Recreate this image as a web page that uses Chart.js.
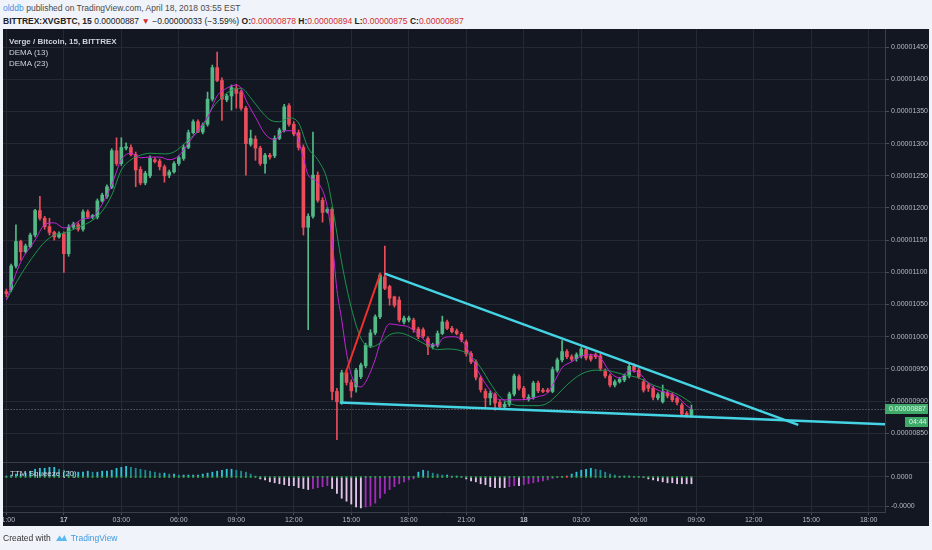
<!DOCTYPE html>
<html>
<head>
<meta charset="utf-8">
<script src="https://cdn.jsdelivr.net/npm/chart.js@4.4.1/dist/chart.umd.min.js"></script>
<style>
  body { margin: 0; width: 932px; height: 550px; background: #f0f3fa; font-family: "Liberation Sans", Arial, sans-serif; position: relative; overflow: hidden; }
  .hdr1 { position: absolute; left: 3px; top: 3px; font-size: 8.5px; color: #4a4a4a; white-space: nowrap; }
  .hdr1 .user { color: #4a90e2; }
  .hdr2 { position: absolute; left: 3px; top: 16px; font-size: 8.5px; color: #222; white-space: nowrap; }
  .red { color: #d32f2f; }
  #wrap { position: absolute; left: 3px; top: 29px; width: 926px; height: 497px; background: #131722; overflow: hidden; }
  .lg { position: absolute; color: #cfd2da; font-size: 8px; white-space: nowrap; }
  .foot { position: absolute; left: 3px; top: 533px; font-size: 8.5px; color: #333; white-space: nowrap; }
  .foot .tv { color: #3d9be0; }
  .foot svg { vertical-align: -2px; margin: 0 3px 0 4px; }
</style>
</head>
<body>
<div class="hdr1"><span class="user">olddb</span> published on TradingView.com, April 18, 2018 03:55 EST</div>
<div class="hdr2"><b>BITTREX:XVGBTC, 15</b> 0.00000887 <span class="red">▼</span> −0.00000033 (−3.59%) <b>O:</b><span class="red">0.00000878</span> <b>H:</b><span class="red">0.00000894</span> <b>L:</b><span class="red">0.00000875</span> <b>C:</b><span class="red">0.00000887</span></div>
<div id="wrap">
  <canvas id="grafica" width="926" height="497"></canvas>
  <div class="lg" style="left:6px;top:8px;font-weight:bold;">Verge / Bitcoin, 15, BITTREX</div>
  <div class="lg" style="left:6px;top:19px;">DEMA (13)</div>
  <div class="lg" style="left:6px;top:30px;">DEMA (23)</div>
  <div class="lg" style="left:7px;top:440px;">TTM Squeeze (20)</div>
</div>
<div class="foot">Created with<svg width="13" height="10" viewBox="0 0 13 10"><path d="M1 8 L4.5 2.5 L7 6 L9.5 2 L12 8 Z" fill="#5bb8f0"/></svg><span class="tv">TradingView</span></div>

<script>
// precios en satoshis (1e-8 BTC), una vela cada 15 min desde 16 abr 21:00
const candleOpen = [1070,1073,1110,1148,1132,1140,1158,1196,1184,1171,1162,1155,1160,1129,1170,1174,1167,1194,1186,1186,
  1211,1218,1232,1289,1269,1293,1294,1283,1260,1239,1250,1275,1273,1264,1251,1256,1269,1277,1294,1317,
  1334,1318,1330,1369,1418,1398,1368,1374,1386,1380,1355,1299,1307,1293,1269,1282,1281,1308,1321,1359,
  1330,1317,1294,1170,1187,1251,1212,1194,1198,915,899,944,929,922,938,955,986,1006,1031,1093,
  1078,1062,1057,1023,1026,1026,1012,1011,997,985,987,1005,1023,1013,1009,1004,992,974,961,936,
  915,905,910,898,891,895,911,938,920,903,906,928,917,917,915,948,964,977,969,966,
  970,980,970,972,970,946,939,925,930,933,939,954,948,930,925,920,905,899,913,910,
  904,894,881,878];
const candleHigh = [1074,1113,1174,1150,1144,1161,1198,1218,1187,1184,1164,1163,1163,1174,1178,1177,1197,1197,1190,1214,
  1223,1236,1292,1309,1309,1301,1298,1287,1264,1257,1281,1278,1276,1267,1259,1272,1281,1298,1321,1337,
  1337,1332,1380,1422,1442,1402,1377,1391,1392,1383,1358,1321,1312,1296,1285,1285,1312,1324,1361,1362,
  1334,1321,1298,1191,1318,1256,1216,1201,1201,920,948,948,933,951,959,990,1011,1034,1099,1141,
  1080,1063,1062,1032,1032,1029,1015,1014,1000,990,1009,1032,1026,1016,1012,1007,995,977,964,939,
  919,916,913,902,899,914,942,941,923,910,931,931,920,920,953,967,994,980,972,975,
  984,983,973,975,973,950,942,933,937,942,958,958,951,934,928,923,913,925,917,913,
  907,897,884,894];
const candleLow = [1062,1070,1107,1119,1130,1138,1155,1181,1167,1158,1150,1153,1100,1125,1167,1164,1164,1184,1183,1183,
  1209,1215,1230,1266,1266,1290,1281,1233,1236,1236,1247,1270,1259,1240,1247,1254,1266,1274,1292,1315,
  1317,1315,1327,1366,1396,1336,1365,1352,1355,1352,1251,1296,1274,1266,1254,1276,1278,1306,1318,1327,
  1312,1290,1158,1011,1184,1209,1178,1192,902,840,895,925,906,914,935,952,983,1003,1028,1073,
  1049,1046,1023,1020,1023,1007,997,998,972,981,984,1003,1011,1006,1003,992,970,958,933,914,
  891,894,886,888,888,892,908,917,902,900,903,913,913,913,913,945,961,966,962,962,
  967,964,962,966,947,936,922,922,928,930,936,945,935,914,915,902,902,897,905,899,
  894,877,875,875];
const candleClose = [1067,1110,1148,1132,1141,1158,1196,1184,1171,1162,1155,1160,1129,1170,1175,1167,1194,1186,1188,1211,
  1220,1233,1289,1269,1294,1295,1283,1259,1239,1254,1277,1272,1264,1250,1256,1269,1278,1294,1317,1334,
  1318,1329,1369,1418,1398,1369,1374,1387,1378,1355,1300,1308,1293,1269,1282,1279,1308,1321,1357,1330,
  1315,1294,1170,1187,1251,1212,1193,1198,915,899,944,929,916,948,956,987,1006,1031,1096,1075,
  1060,1049,1026,1029,1029,1011,1000,1001,985,987,1005,1023,1013,1008,1005,995,974,961,937,918,
  905,912,897,891,895,911,939,920,906,906,928,916,915,915,949,964,977,969,965,972,
  981,967,965,969,951,939,925,930,934,939,954,948,938,917,920,906,910,915,908,902,
  898,880,878,887];

// DEMA (índice de vela, precio)
const demaFastIdx = [0,3,6,8,10,12,14,16,18,20,22,24,26,28,30,32,34,36,38,40,42,44,46,48,49,50,52,54,56,58,
  60,62,63,65,67,68,69,70,71,72,74,75,77,78,80,82,84,86,88,90,91,93,95,97,99,101,103,106,109,111,
  113,115,116,118,120,122,124,126,128,130,132,134,136,138,140,142,143];
const demaFast = [1057,1116,1150,1174,1177,1169,1174,1183,1186,1206,1236,1275,1285,1278,1279,1279,1275,1281,1301,1321,
  1341,1374,1386,1391,1386,1368,1341,1315,1306,1320,1320,1278,1251,1240,1202,1150,1073,1026,975,941,
  922,930,965,990,1020,1018,1015,1004,990,987,997,1000,995,970,939,917,902,902,903,907,
  913,939,952,961,970,972,967,945,936,947,944,928,917,913,907,893,888];
const demaSlowIdx = [0,3,6,8,10,12,15,18,20,22,24,26,28,30,33,35,38,41,43,45,47,49,51,53,55,57,59,61,63,65,
  67,68,69,70,72,74,76,78,80,82,85,88,90,92,95,97,99,101,103,105,107,109,111,113,115,117,120,123,125,127,
  129,132,135,138,141,143];
const demaSlow = [1057,1096,1129,1147,1158,1161,1170,1181,1195,1220,1259,1275,1282,1285,1284,1287,1306,1327,1355,1372,
  1383,1386,1371,1352,1337,1334,1340,1332,1293,1275,1243,1205,1160,1115,1045,998,984,990,1003,1006,
  998,986,980,981,978,970,952,928,907,897,893,893,893,897,910,925,942,948,948,945,
  941,936,925,917,907,897];

// TTM Squeeze (momento, en satoshis)
const squeezeMom = [1,2,3,3,4,6,8,9,9,10,10,8,7,6,5,5,5,6,5,5,6,6,7,9,10,11,10,9,8,7,6,5,4,4,3,3,2,2,2,2,2,
  3,4,5,6,7,8,8,7,6,5,3,1,
  -2,-3,-5,-6,-7,-8,-9,-9,-11,-12,-13,-12,-11,-10,-9,-12,-17,-22,-25,-28,-31,-32,-31,-30,-27,-22,-17,-13,-10,-7,-5,-3,-2,
  5,7,6,4,3,2,2,1,1,0.5,
  -2,-4,-5,-7,-8,
  -10,-11,-11,-11,-10,-9,-9,-8,-7,-6,-5,-4,-3,
  -1.5,-0.5,0.5,1,
  3,5,7,8,9,8,7,5,3,2,
  1,1,1,0.5,0.5,-0.5,
  -2,-3,-4,-5,-6,-6,-7,-7,-7,-7];
const squeezeRedDots = [117];

// líneas dibujadas a mano en el gráfico
const riseLineX = [70.7, 78.1];
const riseLineY = [941, 1099];
const upperTrendX = [79.0, 165.3];
const upperTrendY = [1098, 863];
const lowerTrendX = [69.6, 183.4];
const lowerTrendY = [898, 864];
const lastPrice = 887;
const countdown = '04:44';

// ejes
const priceTicks = [850,900,950,1000,1050,1100,1150,1200,1250,1300,1350,1400,1450];
const squeezeTicks = [0, -30];
const timeTicks = [0,12,24,36,48,60,72,84,96,108,120,132,144,156,168,180];
const timeLabels = ['21:00','17','03:00','06:00','09:00','12:00','15:00','18:00','21:00','18','03:00','06:00','09:00','12:00','15:00','18:00'];

const upColor = '#53b987';
const downColor = '#eb4d5c';
const gridColor = '#252934';
const tickColor = '#b4b8c2';

const idx = candleOpen.map((_, i) => i);
const candleColor = idx.map(i => candleClose[i] >= candleOpen[i] ? upColor : downColor);
const momColor = squeezeMom.map((v, i) => {
  const prev = i ? squeezeMom[i - 1] : v;
  if (v >= 0) return v >= prev ? '#2ec4d6' : '#1f8c92';
  return v <= prev ? '#e3c4ea' : '#a22bb8';
});
const dotColor = idx.map(i => squeezeRedDots.includes(i) ? '#f2362f' : '#2ea44f');

const toPoints = (xs, ys) => xs.map((x, k) => ({ x, y: ys[k] }));

// sin relleno automático de las etiquetas extremas
const sinPadding = s => { s.paddingLeft = 0; s.paddingRight = 0; s.paddingTop = 0; s.paddingBottom = 0; };

Chart.defaults.font.family = '"Liberation Sans", Arial, sans-serif';
Chart.defaults.font.size = 7;

// separador de paneles y etiqueta del último precio
const panelesPlugin = {
  id: 'paneles',
  afterDraw(chart) {
    const { ctx, scales: { y } } = chart;
    const w = chart.width;
    ctx.save();
    ctx.strokeStyle = '#3a3e4a';
    ctx.lineWidth = 1;
    const sep = Math.round(y.bottom) + 0.5;
    ctx.beginPath();
    ctx.moveTo(0, sep);
    ctx.lineTo(w, sep);
    ctx.stroke();

    const py = Math.round(y.getPixelForValue(lastPrice));
    ctx.fillStyle = '#3fa96a';
    ctx.fillRect(y.left, py - 5, w - y.left - 1, 10);
    ctx.fillRect(w - 24, py + 8, 23, 10);
    ctx.fillStyle = '#dff3e6';
    ctx.font = '7px "Liberation Sans", Arial, sans-serif';
    ctx.textBaseline = 'middle';
    ctx.fillText((lastPrice / 1e8).toFixed(8), y.left + 4, py);
    ctx.fillText(countdown, w - 20, py + 13);
    ctx.restore();
  }
};

new Chart(document.getElementById('grafica'), {
  type: 'line',
  data: {
    datasets: [
      {
        label: 'subida',
        data: toPoints(riseLineX, riseLineY),
        borderColor: '#f2312c', borderWidth: 2, pointRadius: 0, yAxisID: 'y', order: 1
      },
      {
        label: 'tendencia superior',
        data: toPoints(upperTrendX, upperTrendY),
        borderColor: '#44d4e4', borderWidth: 2.5, pointRadius: 0, yAxisID: 'y', order: 1
      },
      {
        label: 'tendencia inferior',
        data: toPoints(lowerTrendX, lowerTrendY),
        borderColor: '#44d4e4', borderWidth: 2.5, pointRadius: 0, yAxisID: 'y', order: 1
      },
      {
        label: 'DEMA (13)',
        data: toPoints(demaFastIdx, demaFast),
        borderColor: '#c424d6', borderWidth: 1, pointRadius: 0,
        cubicInterpolationMode: 'monotone', yAxisID: 'y', order: 2
      },
      {
        label: 'DEMA (23)',
        data: toPoints(demaSlowIdx, demaSlow),
        borderColor: '#1e9450', borderWidth: 1, pointRadius: 0,
        cubicInterpolationMode: 'monotone', yAxisID: 'y', order: 3
      },
      {
        label: 'último',
        data: [{ x: -1, y: lastPrice }, { x: 185, y: lastPrice }],
        borderColor: '#7d818c', borderWidth: 1, borderDash: [1, 2], pointRadius: 0, yAxisID: 'y', order: 4
      },
      {
        type: 'bar',
        label: 'cuerpos',
        data: idx.map(i => ({ x: i, y: [candleOpen[i], candleClose[i]] })),
        backgroundColor: candleColor, barThickness: 3, grouped: false, minBarLength: 1,
        yAxisID: 'y', order: 5
      },
      {
        type: 'bar',
        label: 'mechas',
        data: idx.map(i => ({ x: i, y: [candleLow[i], candleHigh[i]] })),
        backgroundColor: candleColor, barThickness: 1, grouped: false,
        yAxisID: 'y', order: 6
      },
      {
        type: 'bar',
        label: 'TTM Squeeze',
        data: idx.map(i => ({ x: i, y: squeezeMom[i] })),
        backgroundColor: momColor, barThickness: 1.2, grouped: false,
        yAxisID: 'y2', order: 7
      },
      {
        label: 'squeeze',
        data: idx.map(i => ({ x: i, y: 0 })),
        showLine: false, pointRadius: 1.1, pointBorderWidth: 0,
        pointBackgroundColor: dotColor, yAxisID: 'y2', order: 0
      }
    ]
  },
  options: {
    responsive: false,
    animation: false,
    events: [],
    layout: { autoPadding: false, padding: 0 },
    plugins: { legend: { display: false }, tooltip: { enabled: false } },
    scales: {
      x: {
        type: 'linear', min: -0.7, max: 183.4, offset: false,
        grid: { color: gridColor, offset: false, tickLength: 3, tickColor: '#4a4e59' },
        border: { color: '#3b3f4a' },
        afterBuildTicks: s => { s.ticks = timeTicks.map(v => ({ value: v })); },
        afterFit: s => { s.height = 14; sinPadding(s); },
        ticks: {
          autoSkip: false, maxRotation: 0, padding: 1, color: tickColor,
          callback: (v, i) => timeLabels[i],
          font: c => ({ size: 7, weight: /^\d+$/.test(timeLabels[c.index] || '') ? 'bold' : 'normal' })
        }
      },
      y: {
        type: 'linear', position: 'right', stack: 'paneles', stackWeight: 432,
        min: 805.6, max: 1478,
        grid: { color: gridColor, tickLength: 4, tickColor: '#4a4e59' },
        border: { color: '#3b3f4a' },
        afterBuildTicks: s => { s.ticks = priceTicks.map(v => ({ value: v })); },
        afterFit: s => { s.width = 44; sinPadding(s); },
        ticks: { color: tickColor, padding: 2, callback: v => (v / 1e8).toFixed(8) }
      },
      y2: {
        type: 'linear', position: 'right', stack: 'paneles', stackWeight: 50,
        min: -36.2, max: 15.6,
        grid: { color: gridColor, tickLength: 4, tickColor: '#4a4e59' },
        border: { color: '#3b3f4a' },
        afterBuildTicks: s => { s.ticks = squeezeTicks.map(v => ({ value: v })); },
        afterFit: s => { s.width = 44; sinPadding(s); },
        ticks: { color: tickColor, padding: 2, callback: v => (v / 1e8).toFixed(4) }
      }
    }
  },
  plugins: [panelesPlugin]
});
</script>
</body>
</html>
